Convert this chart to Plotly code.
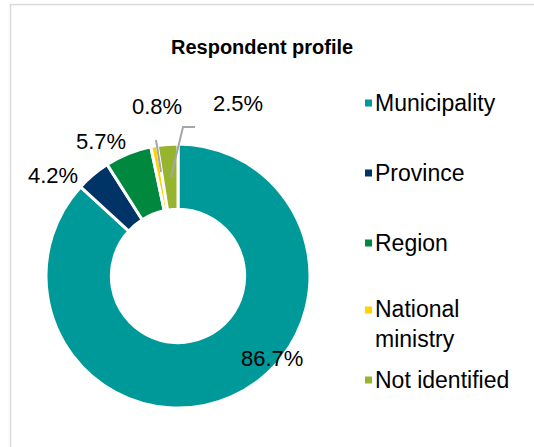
import plotly.graph_objects as go

# Respondent profile data
categories = ["Municipality", "Province", "Region", "National ministry", "Not identified"]
legend_names = ["Municipality", "Province", "Region", "National<br>ministry", "Not identified"]
shares = [86.7, 4.2, 5.7, 0.8, 2.5]
colors = ["#009999", "#003366", "#00883E", "#FFD200", "#96B42D"]

W, H = 534, 447


def px(x):
    return x / W


def py(y):
    return 1 - y / H


fig = go.Figure(
    go.Pie(
        labels=categories,
        values=shares,
        sort=False,
        direction="clockwise",
        rotation=0,
        hole=0.505,
        marker=dict(colors=colors, line=dict(color="white", width=3)),
        textinfo="none",
        hoverinfo="label+percent",
        showlegend=False,
        domain=dict(x=[px(46), px(310)], y=[py(408), py(144)]),
    )
)

FONT = "Liberation Sans, Arial, sans-serif"

# data labels around the ring
label_pos = [(272, 358), (53, 175), (101, 141), (157, 106), (238, 103)]
annotations = []
for v, (lx, ly) in zip(shares, label_pos):
    annotations.append(dict(
        x=px(lx), y=py(ly), xref="paper", yref="paper",
        text=f"{v}%", showarrow=False,
        font=dict(family=FONT, size=22, color="#000000"),
        xanchor="center", yanchor="middle",
    ))

# title
annotations.append(dict(
    x=px(262), y=py(47), xref="paper", yref="paper",
    text="<b>Respondent profile</b>", showarrow=False,
    font=dict(family=FONT, size=20, color="#000000"),
    xanchor="center", yanchor="middle",
))

# legend built from the category list
legend_y = [103, 173, 243, 324, 380]
shapes = []
for name, col, ly in zip(legend_names, colors, legend_y):
    top = ly if "<br>" not in name else 310
    shapes.append(dict(
        type="rect", xref="paper", yref="paper",
        x0=px(365), x1=px(372), y0=py(top + 3.5), y1=py(top - 3.5),
        fillcolor=col, line=dict(width=0),
    ))
    annotations.append(dict(
        x=px(373), y=py(ly), xref="paper", yref="paper",
        text=name, showarrow=False, align="left",
        font=dict(family=FONT, size=23, color="#000000"),
        xanchor="left", yanchor="middle",
    ))

# leader lines for the two thin slices
leader = "#A6A6A6"
shapes.append(dict(
    type="path", xref="paper", yref="paper",
    path=f"M {px(156)},{py(140)} L {px(161)},{py(172)}",
    line=dict(color=leader, width=2),
))
shapes.append(dict(
    type="path", xref="paper", yref="paper",
    path=f"M {px(195)},{py(127)} L {px(183)},{py(127)} L {px(171)},{py(177)}",
    line=dict(color=leader, width=2),
))

# chart area frame
shapes.append(dict(
    type="rect", xref="paper", yref="paper",
    x0=px(10.5), x1=1.02, y0=-0.02, y1=py(4.5),
    line=dict(color="#D9D9D9", width=1.5), fillcolor="rgba(0,0,0,0)",
    layer="below",
))

fig.update_layout(
    width=W, height=H,
    margin=dict(l=0, r=0, t=0, b=0),
    paper_bgcolor="white",
    plot_bgcolor="white",
    annotations=annotations,
    shapes=shapes,
    showlegend=False,
)

fig.write_html("out.html")
